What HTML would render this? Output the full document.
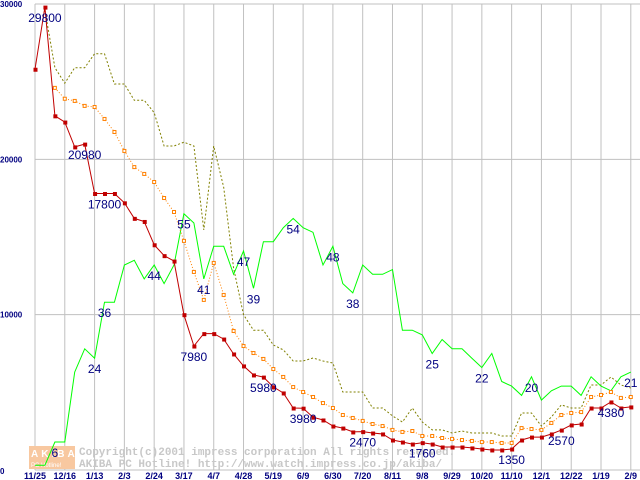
<!DOCTYPE html>
<html><head><meta charset="utf-8"><style>
html,body{margin:0;padding:0;background:#fff;}
svg{display:block;font-family:"Liberation Sans",sans-serif;}
</style></head><body>
<svg id="chart" width="640" height="480" viewBox="0 0 640 480" xmlns="http://www.w3.org/2000/svg">
<g id="grid"></g>
<g id="watermark">
  <rect x="29" y="446" width="46" height="23" fill="#f8c8a0"/>
  <text x="31" y="457" font-size="10" font-weight="bold" fill="#fff" letter-spacing="3">AKIBA</text>
  <text x="31" y="467" font-size="6" fill="#fff">PC Hotline!</text>
  <text x="79" y="455" font-size="11" font-family="Liberation Mono, monospace" font-weight="bold" fill="#c8c8c8">Copyright(c)2001 impress corporation All rights reserved.</text>
  <text x="79" y="467" font-size="11" font-family="Liberation Mono, monospace" font-weight="bold" fill="#c8c8c8">AKIBA PC Hotline!  http://www.watch.impress.co.jp/akiba/</text>
</g>
<g id="series"></g>
<g id="labels"></g>
</svg>
<script>
const xTickLabels = ["11/25","12/16","1/13","2/3","2/24","3/17","4/7","4/28","5/19","6/9","6/30","7/20","8/11","9/8","9/29","10/20","11/10","12/1","12/22","1/19","2/9"];
const yTicks = [0,10000,20000,30000];
const minPrice = [25800,29800,22800,22400,20800,20980,17800,17800,17800,17200,16200,16000,14500,13800,13450,10000,7980,8780,8780,8430,7470,6700,6120,5980,5350,4960,3990,3980,3400,3220,2830,2700,2450,2470,2380,2320,1930,1800,1670,1760,1670,1480,1480,1480,1420,1350,1290,1290,1350,1930,2120,2120,2320,2570,2900,2960,3990,3990,4380,3990,4060];
const avgPrice = [null,null,24600,23900,23760,23440,23370,22600,21760,20540,19500,19060,18540,17510,16610,14750,12750,10950,13330,11270,8950,7980,7530,7150,6500,5990,5340,5020,4700,4310,3990,3540,3350,3160,2960,2830,2580,2450,2510,2190,2190,2060,2000,1930,1870,1800,1800,1740,1740,2700,2640,2580,3030,3540,3670,3730,4700,4830,5020,4640,4700];
const maxPrice = [null,29600,25900,24900,25900,25900,26800,26800,24850,24850,23800,23800,23000,20860,20860,21100,20860,15450,20860,18200,13000,10000,9000,9000,8050,7730,7020,7020,7210,7020,6890,5020,5020,5020,3990,3990,3480,3090,3990,3090,2580,2580,2380,2510,2380,2380,2380,2190,2190,3670,3670,2830,3410,4190,3990,3990,5470,5470,5990,5470,5280];
const shopCount = [1,1,6,6,21,26,24,36,36,44,45,41,44,40,44,55,53,41,48,48,42,47,39,49,49,52,54,52,51,44,48,40,38,44,42,42,43,30,30,29,25,28,26,26,24,22,25,19,18,16,20,15,17,18,18,16,20,18,17,20,21];
const pointLabels = [["29800",1,"min"],["20980",5,"min"],["17800",7,"min"],["7980",16,"min"],["5980",23,"min"],["3980",27,"min"],["2470",33,"min"],["1760",39,"min"],["1350",48,"min"],["2570",53,"min"],["4380",58,"min"],
["6",2,"cnt"],["24",6,"cnt"],["36",7,"cnt"],["44",12,"cnt"],["55",15,"cnt"],["41",17,"cnt"],["47",21,"cnt"],["39",22,"cnt"],["54",26,"cnt"],["48",30,"cnt"],["38",32,"cnt"],["25",40,"cnt"],["22",45,"cnt"],["20",50,"cnt"],["21",60,"cnt"]];

const NS="http://www.w3.org/2000/svg";
const X0=35, XSTEP=9.93, Y0=470, YTOP=4, YMAX=30000, CNTMAX=100;
const xOf=i=>X0+i*XSTEP;
const yOf=v=>Y0-(v/YMAX)*(Y0-YTOP);
const yCnt=v=>Y0-(v/CNTMAX)*(Y0-YTOP);
function mk(tag,attrs,parent){const e=document.createElementNS(NS,tag);for(const k in attrs)e.setAttribute(k,attrs[k]);parent.appendChild(e);return e;}
const grid=document.getElementById('grid'), ser=document.getElementById('series'), lab=document.getElementById('labels');

yTicks.forEach(v=>{
  const y=yOf(v);
  const l=mk('line',{x1:X0,x2:640,y1:y,y2:y,stroke:'#c0c0c0','stroke-width':1},grid);
  
  
  const t=mk('text',{x:0,y:v===0?474:y+3,'font-size':8,'font-weight':'bold',fill:'#000080'},grid);
  t.textContent=String(v);
  
  
});
xTickLabels.forEach((s,k)=>{
  const x=xOf(k*3);
  const l=mk('line',{x1:x,x2:x,y1:YTOP,y2:Y0,stroke:'#c0c0c0','stroke-width':1},grid);
  
  
  const t=mk('text',{x:x,y:479,'font-size':9,'font-weight':'bold',fill:'#000080','text-anchor':'middle'},grid);
  t.textContent=s;
  
  
});

function line(arr,fy,color,dash,name){
  const pts=[];arr.forEach((v,i)=>{if(v!==null)pts.push(xOf(i).toFixed(1)+','+fy(v).toFixed(1));});
  const p=mk('polyline',{points:pts.join(' '),fill:'none',stroke:color,'stroke-width':1},ser);
  if(dash)p.setAttribute('stroke-dasharray',dash);
  
  
}
line(maxPrice,yOf,'#808000','2,2','max-price-line');
line(shopCount,yCnt,'#00ff00',null,'shop-count-line');
line(avgPrice,yOf,'#ff8000','1,2','avg-price-line');
avgPrice.forEach((v,i)=>{if(v===null)return;
  const r=mk('rect',{x:xOf(i)-1.5,y:yOf(v)-1.5,width:3,height:3,fill:'#fff',stroke:'#ff8000','stroke-width':1},ser);
  
  
});
line(minPrice,yOf,'#c00000',null,'min-price-line');
minPrice.forEach((v,i)=>{
  const r=mk('rect',{x:xOf(i)-1.5,y:yOf(v)-1.5,width:4,height:4,fill:'#c00000'},ser);
  
  
});
pointLabels.forEach(([s,i,kind])=>{
  const v = kind==="min"?minPrice[i]:shopCount[i];
  const y = kind==="min"?yOf(v):yCnt(v);
  const t=mk('text',{x:xOf(i),y:y+15,'font-size':12,fill:'#000080','text-anchor':'middle'},lab);
  t.textContent=s;
  
  
});
</script>
</body></html>
